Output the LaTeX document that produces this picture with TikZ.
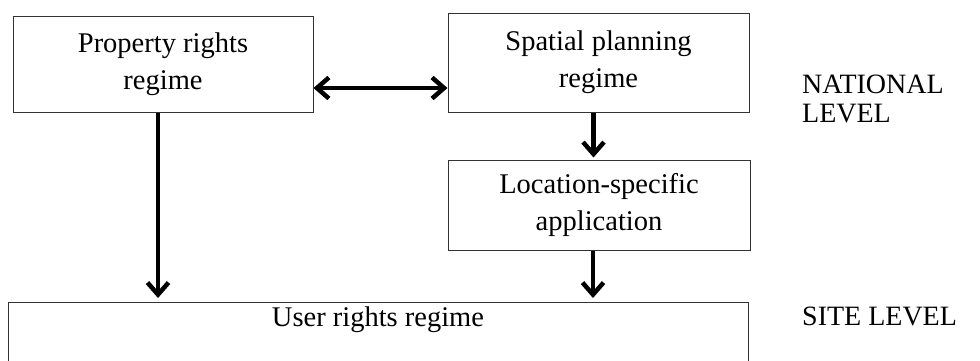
\documentclass[tikz,border=0pt]{standalone}
\usepackage{fontspec}
\setmainfont{Liberation Serif}
\usetikzlibrary{arrows.meta}
\tikzset{
  box/.style={draw=black!80, line width=1pt, align=center, inner sep=0pt,
    font=\fontsize{28.5}{37}\selectfont},
  lbl/.style={anchor=base west, inner sep=0pt, align=left,
    font=\fontsize{28}{29}\selectfont},
  tipb/.tip={Straight Barb[length=12pt,width=21pt]},
  arr/.style={line width=4.5pt, -tipb},
  darr/.style={line width=4.5pt, tipb-tipb}
}
\begin{document}
\begin{tikzpicture}[x=1pt,y=-1pt]
\useasboundingbox (0,0) rectangle (980,360);
\clip (0,0) rectangle (980,360);
\node[box, minimum width=300pt, minimum height=96pt] (prop) at (163,64) {Property rights\\regime};
\node[box, minimum width=301pt, minimum height=99pt] (spat) at (598.5,62.5) {Spatial planning\\regime};
\node[box, minimum width=302pt, minimum height=90pt] (loc) at (599,205) {Location-specific\\application};
\node[box, anchor=north, minimum width=740pt, text height=24pt, text depth=52pt] (user) at (378,302) {User rights regime};
\node[lbl] (nat) at (802,122) {NATIONAL\\LEVEL};
\node[lbl] (site) at (802,325) {SITE LEVEL};
\draw[darr] (prop.east |- 0,88) -- (spat.west |- 0,88);
\draw[arr, shorten >=4pt] ([xshift=-5pt]prop.south) -- ([xshift=-5pt]prop.south |- user.north);
\draw[arr, shorten >=2pt] ([xshift=-5pt]spat.south) -- ([xshift=-5pt]spat.south |- loc.north);
\draw[arr, shorten >=4pt] ([xshift=-6pt]loc.south) -- ([xshift=-6pt]loc.south |- user.north);
\end{tikzpicture}
\end{document}
